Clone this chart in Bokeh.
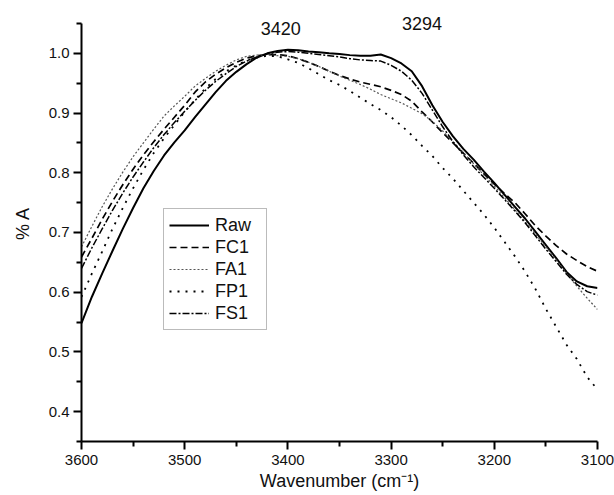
from bokeh.plotting import figure
from bokeh.models import Range1d, FixedTicker, NumeralTickFormatter, Legend, LegendItem, Label
from bokeh.embed import file_html
from bokeh.resources import INLINE

# ---------------- data ----------------
wavenumber = [3600, 3590, 3580, 3570, 3560, 3550, 3540, 3530, 3520, 3510,
              3500, 3490, 3480, 3470, 3460, 3450, 3440, 3430, 3420, 3410,
              3400, 3390, 3380, 3370, 3360, 3350, 3340, 3330, 3320, 3310,
              3300, 3290, 3280, 3270, 3260, 3250, 3240, 3230, 3220, 3210,
              3200, 3190, 3180, 3170, 3160, 3150, 3140, 3130, 3120, 3110, 3100]

raw = [0.548, 0.592, 0.631, 0.669, 0.706, 0.741, 0.774, 0.803, 0.829, 0.851,
       0.871, 0.893, 0.914, 0.935, 0.954, 0.969, 0.982, 0.993, 1.000, 1.004,
       1.006, 1.005, 1.003, 1.002, 1.000, 0.999, 0.997, 0.996, 0.996, 0.998,
       0.992, 0.983, 0.970, 0.945, 0.913, 0.885, 0.861, 0.840, 0.822, 0.802,
       0.783, 0.763, 0.743, 0.723, 0.701, 0.679, 0.657, 0.634, 0.618, 0.610, 0.607]

fc1 = [0.659, 0.690, 0.722, 0.752, 0.780, 0.806, 0.830, 0.852, 0.873, 0.893,
       0.913, 0.935, 0.952, 0.965, 0.976, 0.985, 0.992, 0.996, 0.998, 0.998,
       0.996, 0.991, 0.985, 0.978, 0.970, 0.963, 0.957, 0.952, 0.948, 0.944,
       0.938, 0.931, 0.920, 0.902, 0.885, 0.867, 0.850, 0.833, 0.816, 0.798,
       0.781, 0.765, 0.750, 0.731, 0.711, 0.694, 0.678, 0.664, 0.653, 0.643, 0.635]

fa1 = [0.676, 0.710, 0.743, 0.773, 0.801, 0.827, 0.850, 0.873, 0.895, 0.912,
       0.928, 0.945, 0.958, 0.970, 0.980, 0.989, 0.995, 0.997, 0.998, 0.996,
       0.995, 0.991, 0.985, 0.978, 0.970, 0.962, 0.955, 0.948, 0.940, 0.931,
       0.924, 0.917, 0.908, 0.899, 0.886, 0.870, 0.852, 0.834, 0.815, 0.796,
       0.778, 0.758, 0.738, 0.718, 0.697, 0.676, 0.654, 0.632, 0.610, 0.590, 0.571]

fp1 = [0.592, 0.631, 0.668, 0.706, 0.741, 0.774, 0.805, 0.833, 0.858, 0.880,
       0.902, 0.922, 0.941, 0.957, 0.970, 0.980, 0.988, 0.993, 0.996, 0.995,
       0.990, 0.984, 0.975, 0.965, 0.955, 0.947, 0.937, 0.926, 0.915, 0.905,
       0.893, 0.879, 0.863, 0.845, 0.828, 0.808, 0.790, 0.770, 0.750, 0.730,
       0.708, 0.684, 0.660, 0.634, 0.605, 0.572, 0.542, 0.512, 0.488, 0.458, 0.437]

fs1 = [0.640, 0.674, 0.706, 0.737, 0.766, 0.793, 0.818, 0.842, 0.864, 0.884,
       0.903, 0.921, 0.938, 0.953, 0.966, 0.978, 0.987, 0.994, 0.999, 1.002,
       1.003, 1.002, 1.000, 0.998, 0.996, 0.994, 0.991, 0.989, 0.988, 0.987,
       0.980, 0.970, 0.955, 0.933, 0.905, 0.877, 0.852, 0.830, 0.810, 0.792,
       0.774, 0.755, 0.736, 0.716, 0.694, 0.672, 0.651, 0.630, 0.613, 0.601, 0.595]

series_names = ["Raw", "FC1", "FA1", "FP1", "FS1"]
x_ticks = [3600, 3500, 3400, 3300, 3200, 3100]
x_minor = [3550, 3450, 3350, 3250, 3150]
y_ticks = [0.4, 0.5, 0.6, 0.7, 0.8, 0.9, 1.0]
y_minor = [0.35, 0.45, 0.55, 0.65, 0.75, 0.85, 0.95, 1.05]
peak_labels = ["3420", "3294"]
peak_label_pos = [(3407, 1.041), (3270, 1.050)]

FONT = "Liberation Sans"

# frame extends above the axis top (1.05) so the peak labels are not clipped
p = figure(width=614, height=495, output_backend="svg", toolbar_location=None,
           x_range=Range1d(3600, 3100), y_range=Range1d(0.35, 1.0801),
           min_border_left=81, min_border_right=17, min_border_top=5, min_border_bottom=54)
p.outline_line_color = None
p.xgrid.visible = False
p.ygrid.visible = False
p.background_fill_color = "white"
p.border_fill_color = "white"

styles = [
    dict(line_color="black", line_width=2.0, line_dash="solid"),
    dict(line_color="black", line_width=1.7, line_dash="7 4"),
    dict(line_color="#555555", line_width=1.2, line_dash="2 2"),
    dict(line_color="black", line_width=1.8, line_dash="2 6"),
    dict(line_color="black", line_width=1.5, line_dash="7 2 2 2"),
]
ys = [raw, fc1, fa1, fp1, fs1]
renderers = []
for yv, st in zip(ys, styles):
    r = p.line(wavenumber, yv, **st)
    renderers.append(r)

for ax in (p.xaxis[0], p.yaxis[0]):
    ax.axis_line_width = 2
    ax.axis_line_color = "black"
    ax.major_tick_line_width = 2
    ax.minor_tick_line_width = 2
    ax.major_tick_out = 8
    ax.major_tick_in = 0
    ax.minor_tick_out = 5
    ax.minor_tick_in = 0
    ax.major_label_text_font = FONT
    ax.major_label_text_font_size = "15px"
    ax.major_label_text_color = "#111111"
    ax.axis_label_text_font = FONT
    ax.axis_label_text_font_size = "18px"
    ax.axis_label_text_font_style = "normal"
    ax.axis_label_text_color = "#111111"

p.yaxis[0].bounds = (0.35, 1.05)
p.xaxis[0].ticker = FixedTicker(ticks=x_ticks, minor_ticks=x_minor)
p.yaxis[0].ticker = FixedTicker(ticks=y_ticks, minor_ticks=y_minor)
p.yaxis[0].formatter = NumeralTickFormatter(format="0.0")
p.xaxis[0].formatter = NumeralTickFormatter(format="0")
p.xaxis[0].axis_label = "Wavenumber (cm\u207b\u00b9)"
p.yaxis[0].axis_label = "% A"
p.xaxis[0].major_label_standoff = 5
p.xaxis[0].axis_label_standoff = 3
p.yaxis[0].major_label_standoff = 4
p.yaxis[0].axis_label_standoff = 13

legend = Legend(items=[LegendItem(label=n, renderers=[r]) for n, r in zip(series_names, renderers)],
                location=(82, 111))
legend.border_line_color = "#777777"
legend.border_line_width = 1.5
legend.background_fill_alpha = 1.0
legend.padding = 5
legend.spacing = 0
legend.glyph_width = 40
legend.glyph_height = 22
legend.label_height = 22
legend.label_width = 46
legend.label_standoff = 6
legend.label_text_font = FONT
legend.label_text_font_size = "18px"
legend.label_text_color = "#111111"
p.add_layout(legend, "center")

for txt, (lx, ly) in zip(peak_labels, peak_label_pos):
    p.add_layout(Label(x=lx, y=ly, text=txt, text_align="center", text_baseline="middle",
                       text_font=FONT, text_font_size="18px", text_color="#111111"))

open("out.html", "w").write(file_html(p, INLINE))
